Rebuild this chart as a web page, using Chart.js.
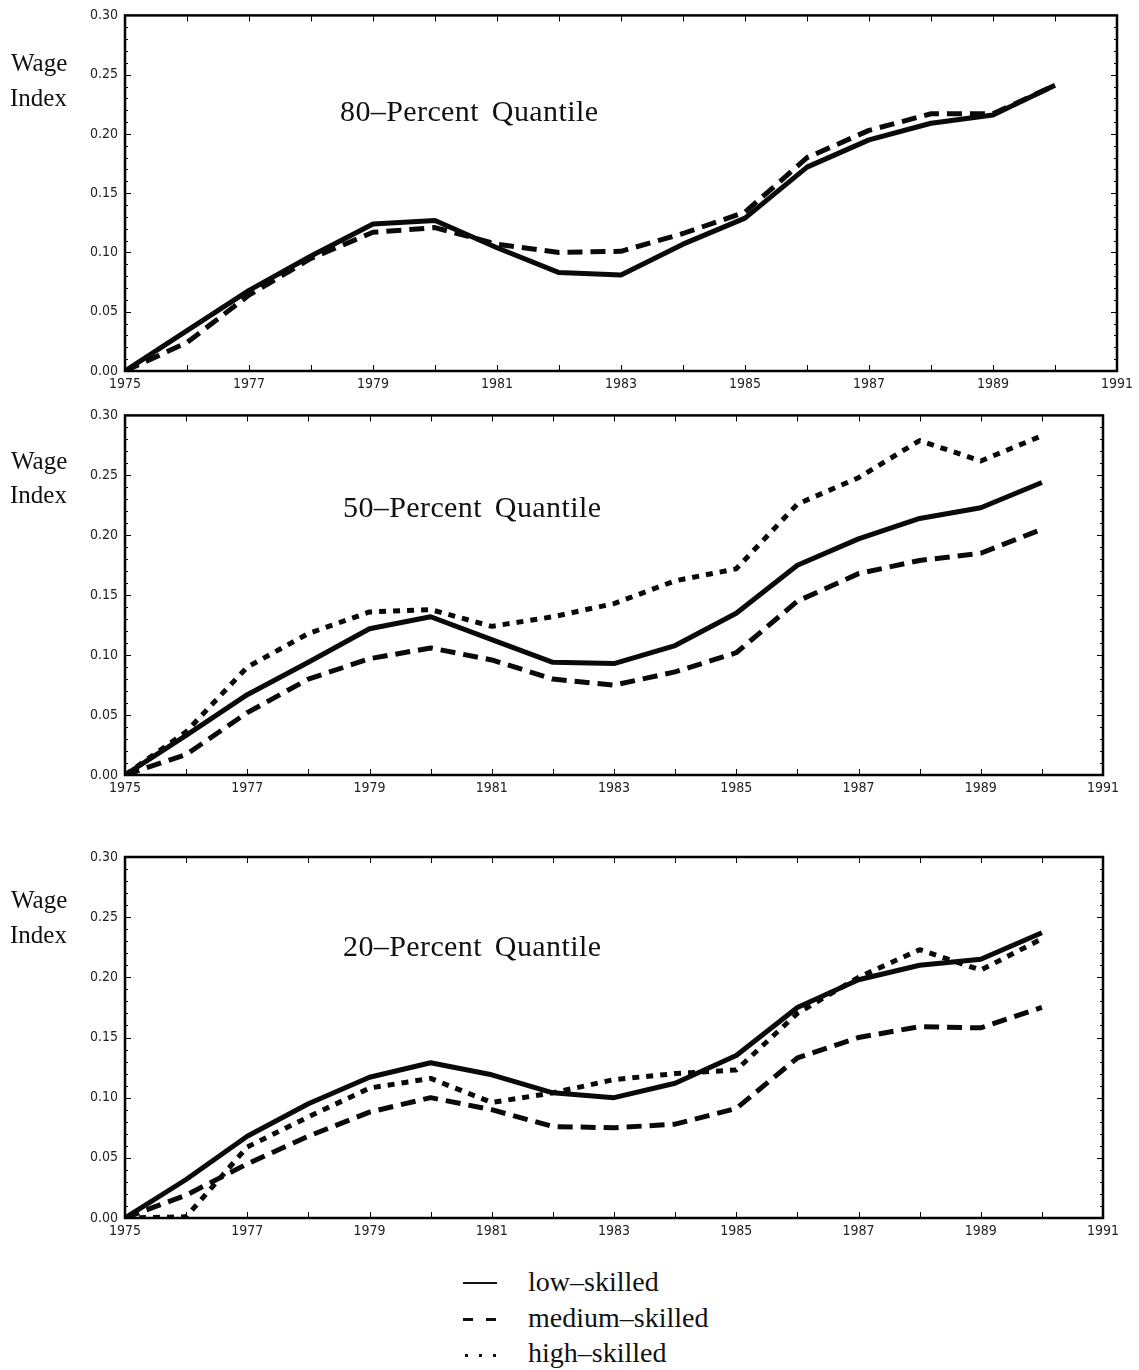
<!DOCTYPE html>
<html>
<head>
<meta charset="utf-8">
<script src="https://cdn.jsdelivr.net/npm/chart.js@4.4.1/dist/chart.umd.min.js"></script>
<style>
  html,body{margin:0;padding:0;background:#fff;}
  body{width:1139px;height:1370px;position:relative;overflow:hidden;}
  .cw{position:absolute;left:0;width:1139px;height:400px;}
  .serif{position:absolute;font-family:"Liberation Serif","DejaVu Serif",serif;color:#111;white-space:nowrap;line-height:1;}
  .wage{font-size:25px;}
  .title{font-size:30px;word-spacing:5px;letter-spacing:0.4px;}
  .leg{font-size:28px;}
  .mk{position:absolute;background:#111;}
</style>
</head>
<body>
<div class="cw" style="top:0px"><canvas id="c1" width="1139" height="400"></canvas></div>
<div class="cw" style="top:400px"><canvas id="c2" width="1139" height="400"></canvas></div>
<div class="cw" style="top:840px"><canvas id="c3" width="1139" height="400"></canvas></div>

<div class="serif wage" style="left:11px;top:50px">Wage</div>
<div class="serif wage" style="left:10px;top:85px">Index</div>
<div class="serif title" style="left:340px;top:96px">80–Percent Quantile</div>

<div class="serif wage" style="left:11px;top:448px">Wage</div>
<div class="serif wage" style="left:10px;top:482px">Index</div>
<div class="serif title" style="left:343px;top:492px">50–Percent Quantile</div>

<div class="serif wage" style="left:11px;top:887px">Wage</div>
<div class="serif wage" style="left:10px;top:922px">Index</div>
<div class="serif title" style="left:343px;top:931px">20–Percent Quantile</div>

<div class="mk" style="left:463px;top:1282px;width:34px;height:2px"></div>
<div class="serif leg" style="left:528px;top:1268px">low–skilled</div>
<div class="mk" style="left:463px;top:1318px;width:10px;height:3px"></div>
<div class="mk" style="left:486px;top:1318px;width:10px;height:3px"></div>
<div class="serif leg" style="left:528px;top:1304px">medium–skilled</div>
<div class="mk" style="left:465px;top:1354px;width:3px;height:3px"></div>
<div class="mk" style="left:479px;top:1354px;width:3px;height:3px"></div>
<div class="mk" style="left:493px;top:1354px;width:3px;height:3px"></div>
<div class="serif leg" style="left:528px;top:1339px">high–skilled</div>

<script>
// ---- data ----
const years = [1975,1976,1977,1978,1979,1980,1981,1982,1983,1984,1985,1986,1987,1988,1989,1990];
const xTickYears = [1975,1977,1979,1981,1983,1985,1987,1989,1991];
const yTickValues = [0.00,0.05,0.10,0.15,0.20,0.25,0.30];

const q80Low    = [0, 0.034, 0.068, 0.097, 0.124, 0.127, 0.104, 0.083, 0.081, 0.107, 0.129, 0.172, 0.195, 0.209, 0.216, 0.241];
const q80Medium = [0, 0.024, 0.064, 0.095, 0.117, 0.121, 0.107, 0.100, 0.101, 0.116, 0.134, 0.180, 0.203, 0.217, 0.217, 0.241];

const q50Low    = [0, 0.033, 0.067, 0.094, 0.122, 0.132, 0.113, 0.094, 0.093, 0.108, 0.135, 0.175, 0.197, 0.214, 0.223, 0.244];
const q50Medium = [0, 0.017, 0.052, 0.080, 0.097, 0.106, 0.096, 0.080, 0.075, 0.086, 0.102, 0.145, 0.168, 0.179, 0.185, 0.205];
const q50High   = [0, 0.036, 0.090, 0.118, 0.136, 0.138, 0.124, 0.132, 0.143, 0.162, 0.172, 0.226, 0.248, 0.279, 0.262, 0.283];

const q20Low    = [0, 0.032, 0.068, 0.095, 0.117, 0.129, 0.119, 0.104, 0.100, 0.112, 0.135, 0.175, 0.198, 0.210, 0.215, 0.237];
const q20Medium = [0, 0.019, 0.045, 0.068, 0.088, 0.100, 0.090, 0.076, 0.075, 0.078, 0.091, 0.133, 0.150, 0.159, 0.158, 0.175];
const q20High   = [0, 0.001, 0.059, 0.084, 0.108, 0.116, 0.096, 0.104, 0.115, 0.120, 0.123, 0.170, 0.200, 0.223, 0.206, 0.232];

// ---- styles ----
const STYLE = {
  low:    {borderDash: []},
  medium: {borderDash: [15, 8]},
  high:   {borderDash: [7, 7]}
};

function ds(label, vals, kind){
  return {
    label: label,
    data: years.map((yr, i) => ({x: yr, y: vals[i]})),
    borderColor: '#0a0a0a',
    backgroundColor: '#0a0a0a',
    borderWidth: 5,
    borderDash: STYLE[kind].borderDash,
    borderCapStyle: 'butt',
    borderJoinStyle: 'round',
    pointRadius: 0,
    tension: 0,
    fill: false
  };
}

const framePlugin = {
  id: 'frame',
  afterDraw(chart){
    const ctx = chart.ctx, a = chart.chartArea;
    const xs = chart.scales.x, ys = chart.scales.y;
    ctx.save();
    ctx.strokeStyle = '#000';
    ctx.lineWidth = 1;
    ctx.beginPath();
    for (let yr = 1975; yr <= 1991; yr++){
      const px = Math.round(xs.getPixelForValue(yr)) + 0.5;
      ctx.moveTo(px, a.bottom); ctx.lineTo(px, a.bottom - 6);
      ctx.moveTo(px, a.top); ctx.lineTo(px, a.top + 6);
    }
    for (let i = 0; i <= 30; i++){
      const py = Math.round(ys.getPixelForValue(i / 100)) + 0.5;
      const len = (i % 5 === 0) ? 6 : 3;
      ctx.moveTo(a.left, py); ctx.lineTo(a.left + len, py);
      ctx.moveTo(a.right, py); ctx.lineTo(a.right - len, py);
    }
    ctx.stroke();
    ctx.lineWidth = 2.5;
    ctx.strokeRect(a.left, a.top, a.right - a.left, a.bottom - a.top);
    ctx.restore();
  }
};

const tickFont = {family: '"DejaVu Sans Condensed","DejaVu Sans",sans-serif', size: 14};

function makeChart(id, datasets, pad){
  new Chart(document.getElementById(id), {
    type: 'line',
    data: {datasets: datasets},
    plugins: [framePlugin],
    options: {
      responsive: false,
      animation: false,
      devicePixelRatio: 1,
      layout: {padding: {top: pad.top, right: pad.right, left: 0, bottom: 0}},
      plugins: {legend: {display: false}, tooltip: {enabled: false}, title: {display: false}},
      scales: {
        x: {
          type: 'linear', min: 1975, max: 1991,
          afterFit: s => { s.height = pad.xh; },
          afterBuildTicks: s => { s.ticks = xTickYears.map(v => ({value: v})); },
          grid: {display: false, drawTicks: false},
          border: {display: false},
          ticks: {
            autoSkip: false, maxRotation: 0, padding: 5,
            color: '#222',
            font: tickFont,
            callback: v => String(v)
          }
        },
        y: {
          min: 0, max: 0.30,
          afterFit: s => { s.width = 125; },
          afterBuildTicks: s => { s.ticks = yTickValues.map(v => ({value: v})); },
          grid: {display: false, drawTicks: false},
          border: {display: false},
          ticks: {
            padding: 7,
            color: '#222',
            font: tickFont,
            callback: v => Number(v).toFixed(2)
          }
        }
      }
    }
  });
}

makeChart('c1', [
  ds('low–skilled', q80Low, 'low'),
  ds('medium–skilled', q80Medium, 'medium')
], {top: 12, right: 22, xh: 29});

makeChart('c2', [
  ds('low–skilled', q50Low, 'low'),
  ds('medium–skilled', q50Medium, 'medium'),
  ds('high–skilled', q50High, 'high')
], {top: 15, right: 36, xh: 25});

makeChart('c3', [
  ds('low–skilled', q20Low, 'low'),
  ds('medium–skilled', q20Medium, 'medium'),
  ds('high–skilled', q20High, 'high')
], {top: 17, right: 36, xh: 22});
</script>
</body>
</html>
